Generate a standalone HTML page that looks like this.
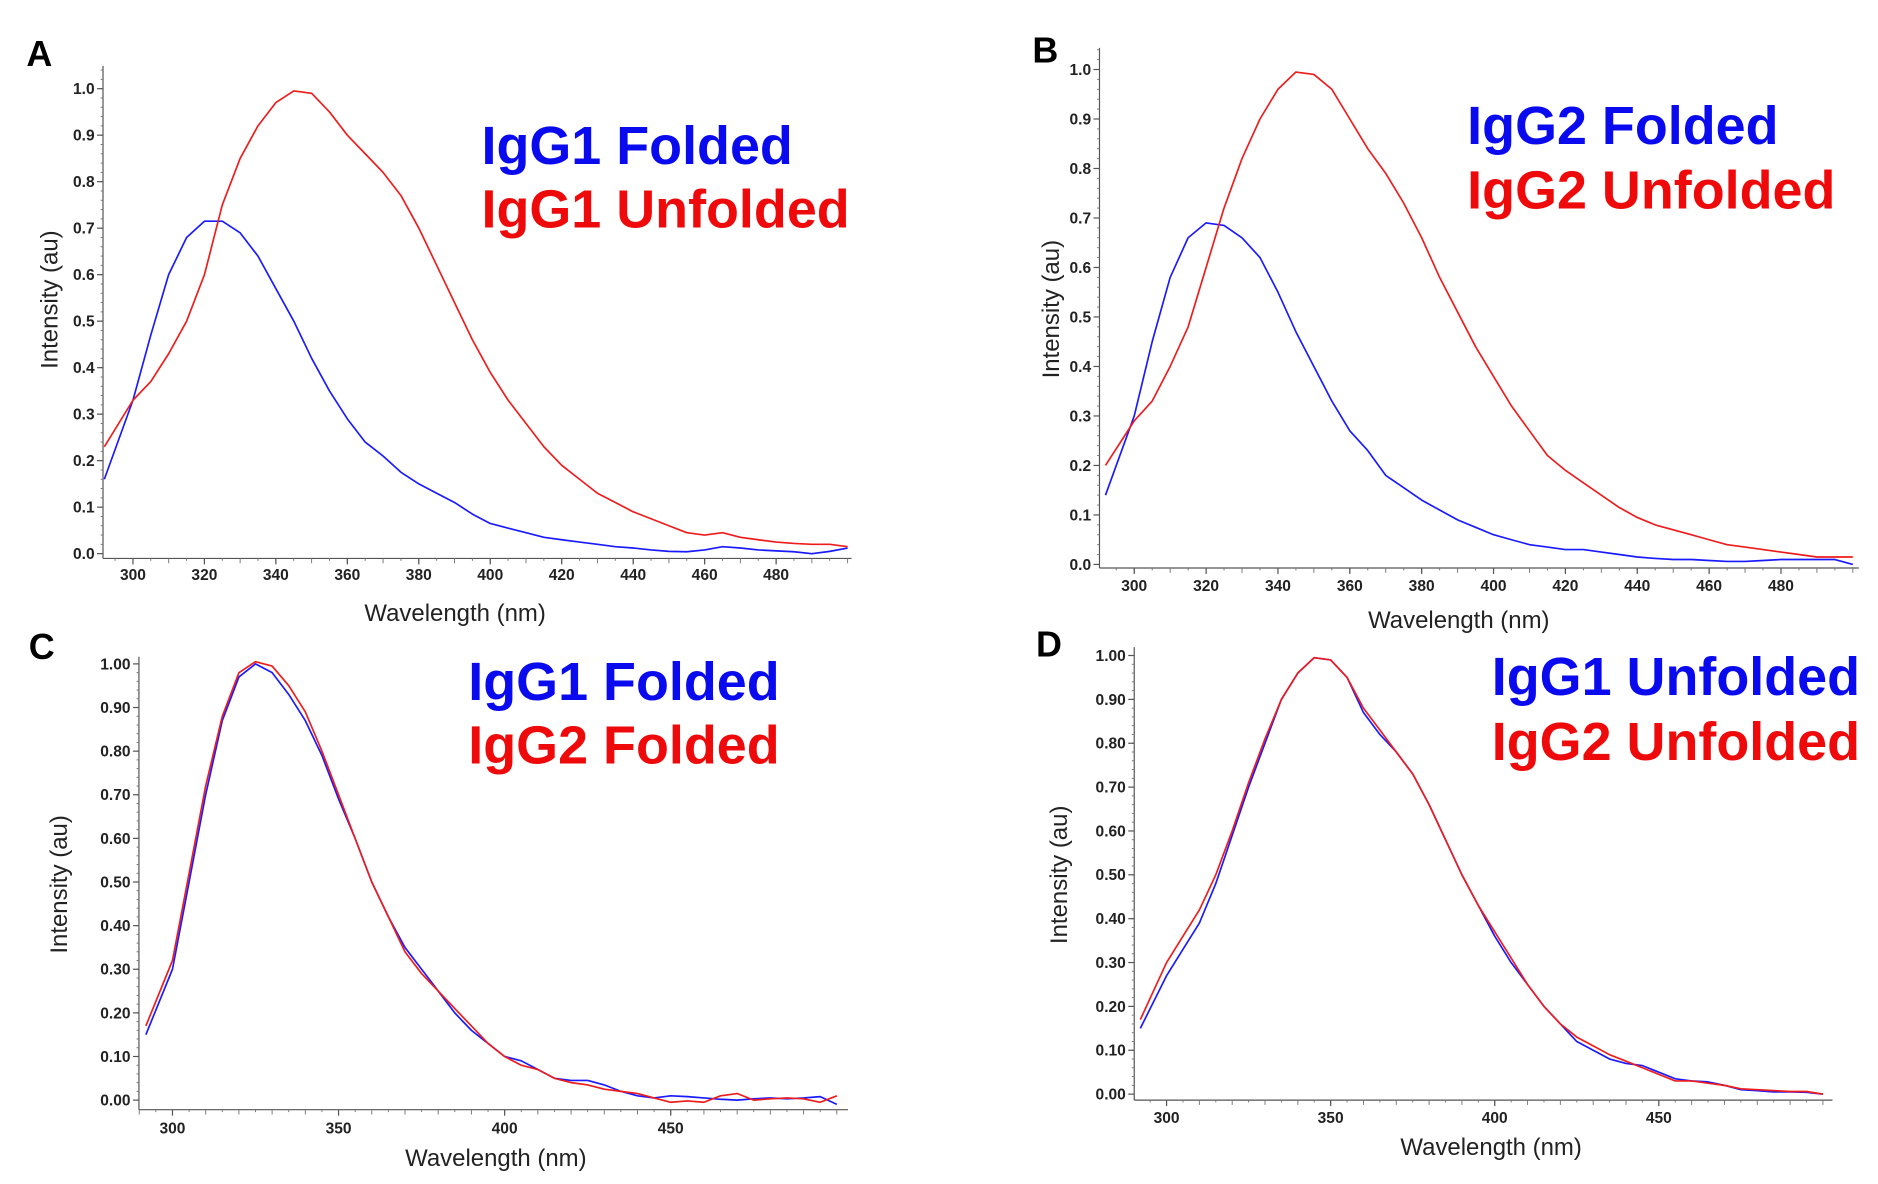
<!DOCTYPE html>
<html><head><meta charset="utf-8"><style>
html,body{margin:0;padding:0;background:#fff;}
svg{display:block;}
text{font-family:"Liberation Sans",Arial,sans-serif;}
.tk{font-size:13px;font-weight:bold;fill:#222;}
.ttl{font-size:20px;fill:#222;}
.leg{font-size:45px;font-weight:bold;}
.let{font-size:30px;font-weight:bold;fill:#000;}
</style></head><body>
<svg id="fig" width="1878" height="1184" viewBox="0 0 1568 988" preserveAspectRatio="none" xmlns="http://www.w3.org/2000/svg"></svg>
<script>
const wl = [292,300,305,310,315,320,325,330,335,340,345,350,355,360,365,370,375,380,385,390,395,400,405,410,415,420,425,430,435,440,445,450,455,460,465,470,475,480,485,490,495,500];
const aFolded = [0.16,0.33,0.47,0.6,0.68,0.715,0.715,0.69,0.64,0.57,0.5,0.42,0.35,0.29,0.24,0.21,0.175,0.15,0.13,0.11,0.085,0.065,0.055,0.045,0.035,0.03,0.025,0.02,0.015,0.012,0.008,0.005,0.004,0.008,0.015,0.012,0.008,0.006,0.004,0.0,0.005,0.012];
const aUnfolded = [0.23,0.33,0.37,0.43,0.5,0.6,0.75,0.85,0.92,0.97,0.995,0.99,0.95,0.9,0.86,0.82,0.77,0.7,0.62,0.54,0.46,0.39,0.33,0.28,0.23,0.19,0.16,0.13,0.11,0.09,0.075,0.06,0.045,0.04,0.045,0.035,0.03,0.025,0.022,0.02,0.02,0.015];
const bFolded = [0.14,0.3,0.45,0.58,0.66,0.69,0.685,0.66,0.62,0.55,0.47,0.4,0.33,0.27,0.23,0.18,0.155,0.13,0.11,0.09,0.075,0.06,0.05,0.04,0.035,0.03,0.03,0.025,0.02,0.015,0.012,0.01,0.01,0.008,0.006,0.006,0.008,0.01,0.01,0.01,0.01,0.0];
const bUnfolded = [0.2,0.29,0.33,0.4,0.48,0.6,0.72,0.82,0.9,0.96,0.995,0.99,0.96,0.9,0.84,0.79,0.73,0.66,0.58,0.51,0.44,0.38,0.32,0.27,0.22,0.19,0.165,0.14,0.115,0.095,0.08,0.07,0.06,0.05,0.04,0.035,0.03,0.025,0.02,0.015,0.015,0.015];
const cIgG1 = [0.15,0.3,0.5,0.7,0.87,0.97,1.0,0.98,0.93,0.87,0.79,0.69,0.6,0.5,0.42,0.35,0.3,0.25,0.2,0.16,0.13,0.1,0.09,0.07,0.05,0.045,0.045,0.035,0.02,0.01,0.005,0.01,0.008,0.005,0.002,0.0,0.003,0.005,0.003,0.005,0.008,-0.01];
const cIgG2 = [0.17,0.32,0.52,0.72,0.88,0.98,1.005,0.995,0.95,0.89,0.8,0.7,0.6,0.5,0.42,0.34,0.29,0.25,0.21,0.17,0.13,0.1,0.08,0.07,0.05,0.04,0.035,0.025,0.02,0.015,0.005,-0.005,-0.002,-0.005,0.01,0.015,0.0,0.003,0.005,0.003,-0.005,0.01];
const dIgG1 = [0.15,0.27,0.33,0.39,0.48,0.59,0.7,0.8,0.9,0.96,0.995,0.99,0.95,0.87,0.82,0.78,0.73,0.66,0.58,0.5,0.43,0.36,0.3,0.25,0.2,0.16,0.12,0.1,0.08,0.07,0.065,0.05,0.035,0.03,0.028,0.02,0.01,0.008,0.005,0.005,0.004,0.0];
const dIgG2 = [0.17,0.3,0.36,0.42,0.5,0.6,0.71,0.81,0.9,0.96,0.995,0.99,0.95,0.88,0.83,0.78,0.73,0.66,0.58,0.5,0.43,0.37,0.31,0.25,0.2,0.16,0.13,0.11,0.09,0.075,0.06,0.045,0.03,0.03,0.025,0.02,0.012,0.01,0.008,0.006,0.006,0.0];
const xTicksAB = [300,320,340,360,380,400,420,440,460,480];
const xTicksCD = [300,350,400,450];
const yTicksAB = [0,0.1,0.2,0.3,0.4,0.5,0.6,0.7,0.8,0.9,1.0];
const yTicksCD = [0,0.1,0.2,0.3,0.4,0.5,0.6,0.7,0.8,0.9,1.0];

const NS='http://www.w3.org/2000/svg';
const svg=document.getElementById('fig');
function mk(tag,attrs,parent){const e=document.createElementNS(NS,tag);for(const k in attrs)e.setAttribute(k,attrs[k]);(parent||svg).appendChild(e);return e;}

const panels=[
 {id:'a',letter:'A',lx:22,ly:55,ax:86,ay0:462,ay1:74,atop:55,axBottom:466,x0:300,px0:111,x1:480,px1:648,right:711,xt:xTicksAB,yt:yTicksAB,dec:1,xl:484,tx:380,ty:518,ytx:48,yty:250,s1:aFolded,s2:aUnfolded,l1:'IgG1 Folded',l2:'IgG1 Unfolded',legx:402,leg1:137,leg2:190,anchor:'start'},
 {id:'b',letter:'B',lx:862,ly:52,ax:918,ay0:471,ay1:58,atop:40,axBottom:474,x0:300,px0:947,x1:480,px1:1487,right:1552,xt:xTicksAB,yt:yTicksAB,dec:1,xl:493,tx:1218,ty:524,ytx:884,yty:258,s1:bFolded,s2:bUnfolded,l1:'IgG2 Folded',l2:'IgG2 Unfolded',legx:1225,leg1:120,leg2:174,anchor:'start'},
 {id:'c',letter:'C',lx:24,ly:550,ax:116,ay0:918,ay1:554,atop:548,axBottom:926,x0:300,px0:144,x1:450,px1:560,right:708,xt:xTicksCD,yt:yTicksCD,dec:2,xl:946,tx:414,ty:973,ytx:56,yty:738,s1:cIgG1,s2:cIgG2,l1:'IgG1 Folded',l2:'IgG2 Folded',legx:391,leg1:584,leg2:637,anchor:'start'},
 {id:'d',letter:'D',lx:865,ly:548,ax:947,ay0:913,ay1:547,atop:540,axBottom:918,x0:300,px0:974,x1:450,px1:1385,right:1530,xt:xTicksCD,yt:yTicksCD,dec:2,xl:937,tx:1245,ty:964,ytx:891,yty:730,s1:dIgG1,s2:dIgG2,l1:'IgG1 Unfolded',l2:'IgG2 Unfolded',legx:1553,leg1:580,leg2:634,anchor:'end'}
];

panels.forEach(p=>{
  const g=mk('g',{});
  
  
  const sx=v=>p.px0+(v-p.x0)*(p.px1-p.px0)/(p.x1-p.x0);
  const sy=v=>p.ay0+(p.ay1-p.ay0)*v;
  const xmax=p.x0+(p.right-p.px0)*(p.x1-p.x0)/(p.px1-p.px0);
  const L=mk('text',{x:p.lx,y:p.ly,class:'let'},g);L.textContent=p.letter;
  
  
  const ya=mk('line',{x1:p.ax,y1:p.atop,x2:p.ax,y2:p.axBottom,stroke:'#555','stroke-width':1},g);
  
  
  const xa=mk('line',{x1:p.ax,y1:p.axBottom,x2:p.right,y2:p.axBottom,stroke:'#555','stroke-width':1},g);
  
  
  for(let v=0;v<=1.08;v+=0.02){const y=sy(v);if(y<p.atop)break;mk('line',{x1:p.ax-2,y1:y,x2:p.ax,y2:y,stroke:'#777','stroke-width':0.8},g);}
  p.yt.forEach(v=>{const y=sy(v);mk('line',{x1:p.ax-5,y1:y,x2:p.ax,y2:y,stroke:'#555','stroke-width':1},g);
    const t=mk('text',{x:p.ax-7,y:y+4.5,class:'tk','text-anchor':'end'},g);t.textContent=v.toFixed(p.dec);
    
    });
  for(let v=Math.ceil(p.x0-20);v<=xmax;v+=5){const x=sx(v);if(x<p.ax)continue;mk('line',{x1:x,y1:p.axBottom,x2:x,y2:p.axBottom+(v%10===0?4:2),stroke:'#777','stroke-width':0.8},g);}
  p.xt.forEach(v=>{const x=sx(v);mk('line',{x1:x,y1:p.axBottom,x2:x,y2:p.axBottom+5,stroke:'#555','stroke-width':1},g);
    const t=mk('text',{x:x,y:p.xl,class:'tk','text-anchor':'middle'},g);t.textContent=v;
    
    });
  const xt=mk('text',{x:p.tx,y:p.ty,class:'ttl','text-anchor':'middle'},g);xt.textContent='Wavelength (nm)';
  
  
  const yt=mk('text',{x:0,y:0,class:'ttl','text-anchor':'middle',transform:'translate('+p.ytx+','+p.yty+') rotate(-90)'},g);yt.textContent='Intensity (au)';
  
  
  [[p.s1,'#1a1aff','series-blue'],[p.s2,'#ee1c1c','series-red']].forEach(([s,c,n])=>{
    const d=s.map((v,i)=>(i?'L':'M')+sx(wl[i]).toFixed(1)+','+sy(v).toFixed(1)).join(' ');
    const path=mk('path',{d:d,fill:'none',stroke:c,'stroke-width':1.4,'stroke-linejoin':'round'},g);
    
    
  });
  const t1=mk('text',{x:p.legx,y:p.leg1,class:'leg',fill:'#0a0aee','text-anchor':p.anchor},g);t1.textContent=p.l1;
  
  
  const t2=mk('text',{x:p.legx,y:p.leg2,class:'leg',fill:'#ee0a0a','text-anchor':p.anchor},g);t2.textContent=p.l2;
  
  
});
</script>
</body></html>
